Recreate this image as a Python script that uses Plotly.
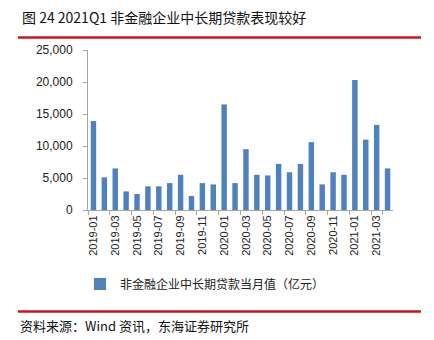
import plotly.graph_objects as go

months = [f"{y}-{m:02d}" for y in (2019, 2020) for m in range(1, 13)] + [f"2021-{m:02d}" for m in range(1, 5)]
values = [13900, 5100, 6500, 2900, 2500, 3700, 3700, 4200, 5500, 2200, 4200, 4000,
          16500, 4200, 9500, 5500, 5400, 7200, 5900, 7200, 10600, 4000, 5900, 5500,
          20300, 11000, 13300, 6500]
tick_labels = months[::2]
y_ticks = [0, 5000, 10000, 15000, 20000, 25000]

title_text = "图 24 2021Q1 非金融企业中长期贷款表现较好"
series_name = "非金融企业中长期贷款当月值（亿元）"
source_text = "资料来源：Wind 资讯，东海证券研究所"

FONT = "Noto Sans CJK SC, Liberation Sans, sans-serif"

# plot area pixel geometry
L, R, T, B = 88, 393, 50, 210
W, H = 434, 340
def px(x):
    return (x - L) / (R - L)
def py(y):
    return (B - y) / (B - T)

fig = go.Figure()
fig.add_trace(go.Bar(x=months, y=values, name=series_name, marker_color="#4F81BD",
                     marker_line_width=0, width=0.5))

fig.update_layout(
    width=W, height=H,
    margin=dict(l=L, r=W - R, t=T, b=H - B, pad=0),
    paper_bgcolor="white", plot_bgcolor="white",
    font=dict(family=FONT, size=11, color="#222"),
    showlegend=True,
    legend=dict(orientation="h", x=px(80), xanchor="left", y=py(284), yanchor="middle",
                font=dict(size=12, color="#222"), bgcolor="rgba(0,0,0,0)", itemwidth=30),
    bargap=0.5,
    xaxis=dict(type="category", tickmode="array", tickvals=tick_labels, ticktext=tick_labels,
               tickangle=-90, showline=True, linecolor="#A6A6A6", linewidth=1,
               ticks="outside", ticklen=4, tickcolor="#A6A6A6", tickson="boundaries",
               showgrid=False, tickfont=dict(size=11, family="Liberation Sans, sans-serif", color="#222"),
               range=[-0.5, len(months) - 0.5]),
    yaxis=dict(range=[0, 25000], tickvals=y_ticks, tickformat=",", showline=True,
               linecolor="#A6A6A6", linewidth=1, ticks="outside", ticklen=4, tickcolor="#A6A6A6",
               showgrid=False, zeroline=False, ticklabelstandoff=8,
               tickfont=dict(size=12, family="Liberation Sans, sans-serif", color="#222")),
)

fig.add_annotation(text=title_text, xref="paper", yref="paper", x=px(20), y=py(17),
                   xanchor="left", yanchor="middle", showarrow=False,
                   font=dict(size=14, family=FONT, color="#111"))
fig.add_annotation(text=source_text, xref="paper", yref="paper", x=px(18), y=py(325),
                   xanchor="left", yanchor="middle", showarrow=False,
                   font=dict(size=13, family=FONT, color="#111"))
for yy in (37.5, 311.5):
    fig.add_shape(type="line", xref="paper", yref="paper", x0=px(18), x1=px(421),
                  y0=py(yy), y1=py(yy), line=dict(color="#C8161D", width=2.5))

fig.write_html("out.html")
